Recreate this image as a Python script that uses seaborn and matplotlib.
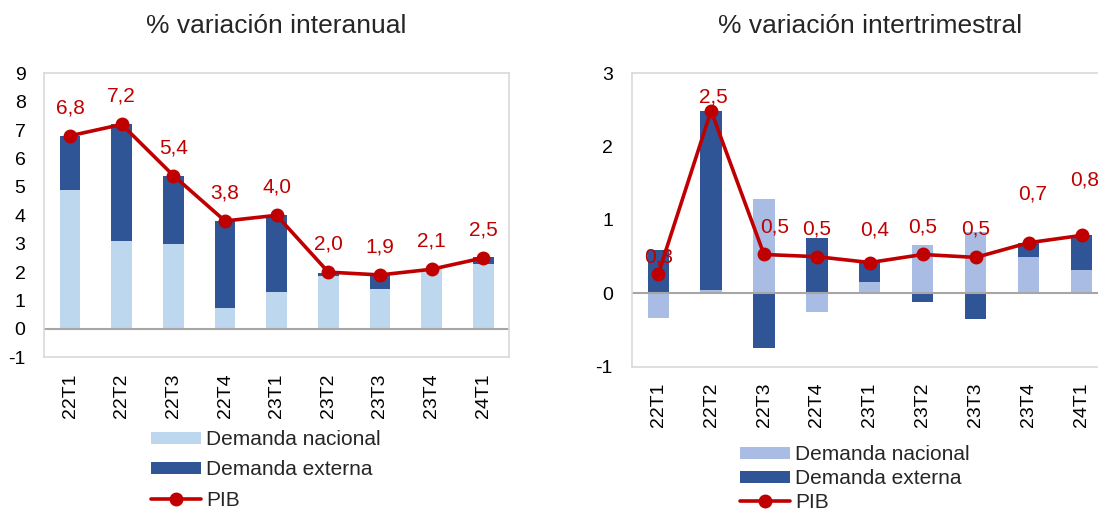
import numpy as np
import pandas as pd
import seaborn as sns
import matplotlib.pyplot as plt
from matplotlib.patches import Patch
from matplotlib.lines import Line2D

# Data
quarters = ['22T1', '22T2', '22T3', '22T4', '23T1', '23T2', '23T3', '23T4', '24T1']

# % variación interanual
anual_nacional = [4.9, 3.1, 3.0, 0.75, 1.3, 1.85, 1.4, 2.1, 2.27]
anual_externa = [1.9, 4.1, 2.4, 3.05, 2.7, 0.12, 0.5, 0.0, 0.25]
anual_pib = [6.8, 7.2, 5.4, 3.8, 4.0, 2.0, 1.9, 2.1, 2.5]

# % variación intertrimestral
trim_nacional = [-0.33, 0.04, 1.28, -0.26, 0.16, 0.66, 0.83, 0.50, 0.32]
trim_externa = [0.59, 2.45, -0.75, 0.75, 0.27, -0.12, -0.35, 0.19, 0.47]
trim_pib = [0.26, 2.49, 0.53, 0.50, 0.42, 0.53, 0.49, 0.69, 0.79]

# label placement (pixels, relative to each PIB point)
anual_lab_dx = [0] * 9
anual_lab_dy = [28] * 9
trim_lab_dx = [0, 2, 11, 0, 5, 0, 0, 4, 3]
trim_lab_dy = [17, 14, 27, 28, 33, 27, 28, 49, 55]

DARK = '#2F5597'
RED = '#C00000'
FRAME = '#D9D9D9'

sns.set_style('white')
plt.rcParams['font.family'] = ['Liberation Sans', 'DejaVu Sans']
plt.rcParams['axes.unicode_minus'] = False

W, H = 1098, 509
fig = plt.figure(figsize=(W / 100, H / 100), dpi=100)


def px_box(x0, y0, x1, y1):
    return [x0 / W, 1 - y1 / H, (x1 - x0) / W, (y1 - y0) / H]


ax1 = fig.add_axes(px_box(44.3, 73.3, 509, 357.3))
ax2 = fig.add_axes(px_box(631.7, 73.3, 1108, 366.7))


def draw_panel(ax, title, nacional, externa, pib, light, ylim, dx, dy, title_pad):
    nac = np.array(nacional)
    ext = np.array(externa)
    # stack the external part on the national part only when both share sign
    bottom = np.where(np.sign(nac) == np.sign(ext), nac, 0.0)
    df = pd.DataFrame({'q': quarters, 'nac': nac, 'ext': ext})
    sns.barplot(data=df, x='q', y='nac', color=light, width=0.4, ax=ax,
                saturation=1, errorbar=None, zorder=2, linewidth=0)
    sns.barplot(data=df, x='q', y='ext', color=DARK, width=0.4, ax=ax,
                saturation=1, errorbar=None, bottom=bottom, zorder=2, linewidth=0)
    ax.axhline(0, color='#A6A6A6', lw=1.5, zorder=2.5)
    pos = np.arange(len(quarters))
    ax.plot(pos, pib, color=RED, lw=2.6, marker='o', markersize=9, zorder=4)
    for i, v in enumerate(pib):
        ax.annotate(f'{v:.1f}'.replace('.', ','), (pos[i], v),
                    xytext=(dx[i], dy[i]), textcoords='offset pixels',
                    ha='center', va='center', color=RED, fontsize=15, zorder=5)
    ax.set_xlim(-0.5, len(quarters) - 0.5)
    ax.set_ylim(*ylim)
    ticks = list(range(ylim[0], ylim[1] + 1))
    ax.set_yticks(ticks)
    ax.set_yticklabels([str(t) for t in ticks])
    ax.set_xticks(pos)
    ax.set_xticklabels(quarters, rotation=90)
    ax.tick_params(axis='both', length=0, labelsize=14, colors='black')
    ax.tick_params(axis='y', pad=13.5)
    ax.tick_params(axis='x', pad=11.5)
    ax.set_xlabel('')
    ax.set_ylabel('')
    for s in ax.spines.values():
        s.set_visible(True)
        s.set_color(FRAME)
        s.set_linewidth(1.2)
    ax.set_title(title, fontsize=19, pad=title_pad)


draw_panel(ax1, '% variación interanual', anual_nacional, anual_externa, anual_pib,
           '#BDD7EE', (-1, 9), anual_lab_dx, anual_lab_dy, 29)
draw_panel(ax2, '% variación intertrimestral', trim_nacional, trim_externa, trim_pib,
           '#A9BCE3', (-1, 3), trim_lab_dx, trim_lab_dy, 29)


def make_legend(light, anchor, spacing):
    handles = [Patch(facecolor=light, edgecolor='none'),
               Patch(facecolor=DARK, edgecolor='none'),
               Line2D([0], [0], color=RED, lw=2.6, marker='o', markersize=9)]
    labels = ['Demanda nacional', 'Demanda externa', 'PIB']
    fig.legend(handles, labels, loc='upper left', bbox_to_anchor=anchor,
               frameon=False, fontsize=15, handlelength=2.4, handleheight=0.5,
               handletextpad=0.25, labelspacing=spacing, borderpad=0,
               borderaxespad=0)


make_legend('#BDD7EE', (151 / W, 1 - 430 / H), 0.54)
make_legend('#A9BCE3', (740 / W, 1 - 445 / H), 0.24)

fig.savefig('out.png', dpi=100)
